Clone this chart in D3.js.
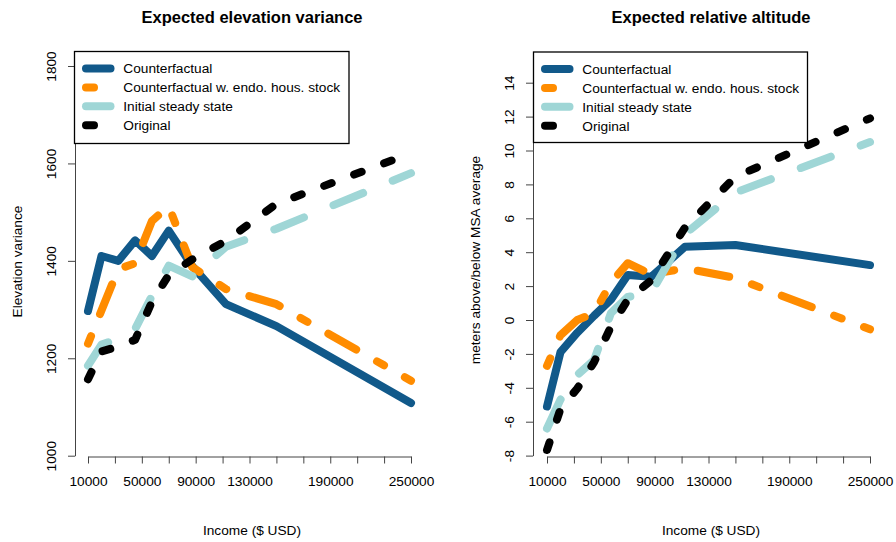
<!DOCTYPE html>
<html>
<head>
<meta charset="utf-8">
<script src="https://cdn.jsdelivr.net/npm/d3@7/dist/d3.min.js"></script>
<style>
  html, body { margin: 0; padding: 0; background: #fff; }
  svg { display: block; font-family: "Liberation Sans", Arial, Helvetica, sans-serif; }
</style>
</head>
<body>
<svg id="chart" width="896" height="542"></svg>
<script>
// ---------------- data ----------------
const income = [10000, 20000, 32500, 45000, 57500, 70000, 87500, 112500, 150000, 250000];

const seriesNames = ["Counterfactual", "Counterfactual w. endo. hous. stock", "Initial steady state", "Original"];

// Expected elevation variance
const elevCounterfactual = [1297, 1410, 1400, 1442, 1410, 1462, 1389, 1311, 1266, 1108];
const elevEndo           = [1230, 1298, 1383, 1395, 1482, 1512, 1387, 1342, 1311, 1154];
const elevInitial        = [1185, 1228, 1240, 1260, 1328, 1390, 1368, 1429, 1466, 1580];
const elevOriginal       = [1157, 1214, 1224, 1238, 1316, 1371, 1403, 1441, 1517, 1621];

// Expected relative altitude (meters above/below MSA average)
const altCounterfactual = [-5.1, -1.9, -0.75, 0.25, 1.2, 2.65, 2.55, 4.32, 4.42, 3.24];
const altEndo           = [-2.7, -0.9, 0.0, 0.4, 2.2, 3.35, 2.7, 3.05, 2.48, -0.55];
const altInitial        = [-6.4, -4.7, -3.24, -2.36, 0.41, 1.36, 1.62, 5.07, 7.52, 10.5];
const altOriginal       = [-7.67, -5.25, -4.04, -2.48, -0.4, 1.2, 2.35, 5.45, 8.45, 11.9];

// ticks
const xTicks = [10000, 30000, 50000, 70000, 90000, 110000, 130000, 150000, 170000, 190000, 210000, 230000, 250000];
const xTickLabels = [10000, 50000, 90000, 130000, 190000, 250000];
const elevTicks = [1000, 1200, 1400, 1600, 1800];
const altTicks = [-8, -6, -4, -2, 0, 2, 4, 6, 8, 10, 12, 14];

// ---------------- style ----------------
const LW = 8;
const styles = [
  { color: "#11598a", dash: null },
  { color: "#ff8c00", dash: [LW, 3 * LW, 4 * LW, 3 * LW].join(" ") },
  { color: "#9fd6d6", dash: [4 * LW, 4 * LW].join(" ") },
  { color: "#000000", dash: [LW, 3 * LW].join(" ") }
];
const FONT = 13.7;

const svg = d3.select("#chart");

function panel(opts) {
  const g = svg.append("g");
  const x = d3.scaleLinear().domain([10000, 250000]).range(opts.xRange);
  const y = d3.scaleLinear().domain(opts.yDomain).range(opts.yRange);

  // x axis
  const xAxis = d3.axisBottom(x)
    .tickValues(xTicks)
    .tickSize(7)
    .tickSizeOuter(0)
    .tickPadding(13)
    .tickFormat(d => xTickLabels.includes(d) ? String(d) : "");
  const gx = g.append("g").attr("transform", `translate(0,${opts.xAxisY})`).call(xAxis);
  gx.selectAll("path, line").attr("stroke", "#444");
  gx.selectAll("text").attr("font-size", FONT).attr("fill", "#000")
    .attr("font-family", '"Liberation Sans", Arial, sans-serif');

  // y axis
  const yAxis = d3.axisLeft(y)
    .tickValues(opts.yTicks)
    .tickSize(7)
    .tickSizeOuter(0)
    .tickFormat(d => String(d));
  const gy = g.append("g").attr("transform", `translate(${opts.yAxisX},0)`).call(yAxis);
  gy.selectAll("path, line").attr("stroke", "#444");
  gy.selectAll("text")
    .attr("x", null).attr("dy", null)
    .attr("text-anchor", "middle")
    .attr("font-size", FONT).attr("fill", "#000")
    .attr("font-family", '"Liberation Sans", Arial, sans-serif')
    .attr("transform", "translate(-19.5,0) rotate(-90)");

  // lines
  const line = d3.line().x((d, i) => x(income[i])).y(d => y(d));
  opts.series.forEach((vals, k) => {
    const p = g.append("path")
      .datum(vals)
      .attr("d", line)
      .attr("fill", "none")
      .attr("stroke", styles[k].color)
      .attr("stroke-width", LW)
      .attr("stroke-linecap", "round")
      .attr("stroke-linejoin", "round");
    if (styles[k].dash) p.attr("stroke-dasharray", styles[k].dash);
  });

  // title
  g.append("text")
    .attr("x", opts.titleX).attr("y", 23)
    .attr("text-anchor", "middle")
    .attr("font-size", 16.5).attr("font-weight", "bold")
    .text(opts.title);

  // x title
  g.append("text")
    .attr("x", opts.titleX).attr("y", 535)
    .attr("text-anchor", "middle")
    .attr("font-size", FONT)
    .text("Income ($ USD)");

  // y title
  g.append("text")
    .attr("transform", `translate(${opts.yTitleX},${opts.yTitleY}) rotate(-90)`)
    .attr("text-anchor", "middle")
    .attr("font-size", FONT)
    .text(opts.yTitle);

  // legend
  const L = opts.legend;
  const lg = g.append("g");
  lg.append("rect")
    .attr("x", L.x + 0.5).attr("y", L.y + 0.5)
    .attr("width", L.w).attr("height", L.h)
    .attr("fill", "#fff").attr("stroke", "#000").attr("stroke-width", 1.3);
  seriesNames.forEach((name, k) => {
    const yy = L.y + 17.5 + k * 18.9;
    const seg = lg.append("line")
      .attr("x1", L.x + 12).attr("x2", L.x + 36.5)
      .attr("y1", yy).attr("y2", yy)
      .attr("stroke", styles[k].color)
      .attr("stroke-width", LW)
      .attr("stroke-linecap", "round");
    if (styles[k].dash) seg.attr("stroke-dasharray", styles[k].dash);
    lg.append("text")
      .attr("x", L.x + 49.3).attr("y", yy)
      .attr("dy", "0.36em")
      .attr("font-size", FONT)
      .text(name);
  });
}

panel({
  xRange: [88, 411],
  yDomain: [1000, 1800],
  yRange: [455.7, 66],
  yTicks: elevTicks,
  xAxisY: 456.5,
  yAxisX: 75,
  series: [elevCounterfactual, elevEndo, elevInitial, elevOriginal],
  title: "Expected elevation variance",
  titleX: 252,
  yTitle: "Elevation variance",
  yTitleX: 21.5, yTitleY: 261.5,
  legend: { x: 74, y: 51, w: 274.5, h: 92 }
});

panel({
  xRange: [547, 870],
  yDomain: [-8, 14],
  yRange: [455.6, 82.7],
  yTicks: altTicks,
  xAxisY: 456.5,
  yAxisX: 533,
  series: [altCounterfactual, altEndo, altInitial, altOriginal],
  title: "Expected relative altitude",
  titleX: 711,
  yTitle: "meters above/below MSA average",
  yTitleX: 480, yTitleY: 260,
  legend: { x: 533, y: 51.5, w: 274, h: 90.5 }
});
</script>
</body>
</html>
